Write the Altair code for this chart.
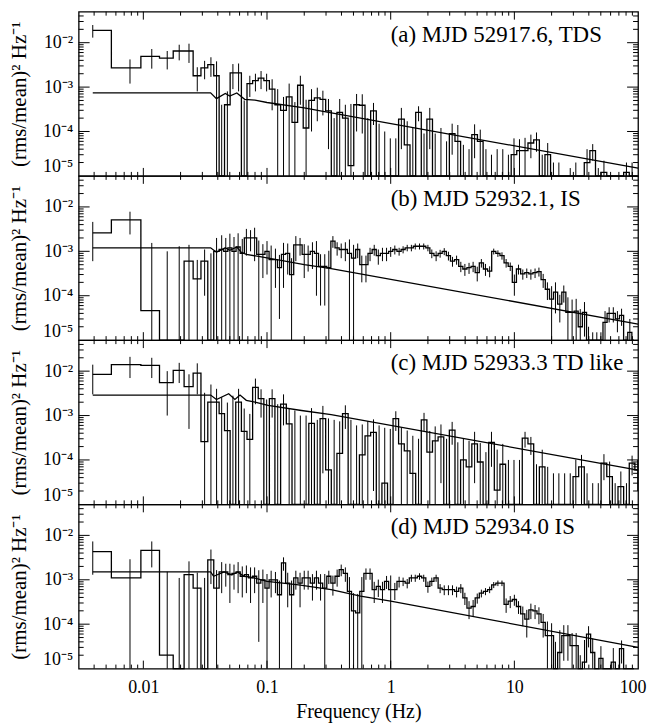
import altair as alt
import pandas as pd

SERIF = "'Liberation Serif', 'Times New Roman', Times, serif"
W, H = 562, 165
XDOM = [0.003, 100]
YDOM = [1e-5, 0.05]
UNIT = 1e-4          # powers below are in units of 1e-4 (rms/mean)^2/Hz
FLOOR = 1e-9         # non-positive powers are drawn at the bottom of the panel

# ---------------- frequency grids (bin centres, Hz) ----------------
FOURIER = [0.0039, 0.0078, 0.0117, 0.0156, 0.0195, 0.0234, 0.0273, 0.0313, 0.0352, 0.0391]
FREQ_A = FOURIER + [
    0.0430, 0.0478, 0.0530, 0.0589, 0.0654, 0.0726, 0.0806, 0.0895, 0.0993,
    0.110, 0.122, 0.136, 0.151, 0.168, 0.186, 0.207, 0.229, 0.255, 0.283, 0.314,
    0.349, 0.387, 0.430, 0.477, 0.530, 0.589, 0.653, 0.726, 0.806, 0.895, 0.993,
    1.10, 1.22, 1.36, 1.51, 1.68, 1.86, 2.07, 2.29, 2.55, 2.83, 3.14,
    3.49, 3.87, 4.30, 4.77, 5.30, 5.89, 6.53, 7.26, 8.06, 8.95, 9.93,
    11.0, 12.2, 13.6, 15.1, 16.8, 18.6, 20.7, 22.9, 25.5, 28.3, 31.4,
    34.9, 38.7, 43.0, 47.7, 53.0, 58.9, 65.3, 72.6, 80.6, 89.5, 99.3]
FREQ_B = FOURIER + [
    0.0430, 0.0464, 0.0501, 0.0541, 0.0584, 0.0631, 0.0681, 0.0736, 0.0794, 0.0858, 0.0926,
    0.100, 0.108, 0.117, 0.126, 0.136, 0.147, 0.158, 0.171, 0.185, 0.200,
    0.215, 0.233, 0.251, 0.271, 0.293, 0.316, 0.341, 0.369, 0.398, 0.430,
    0.464, 0.501, 0.541, 0.584, 0.631, 0.681, 0.736, 0.794, 0.858, 0.926,
    1.00, 1.08, 1.17, 1.26, 1.36, 1.47, 1.58, 1.71, 1.85, 2.00,
    2.15, 2.33, 2.51, 2.71, 2.93, 3.16, 3.41, 3.69, 3.98, 4.30,
    4.64, 5.01, 5.41, 5.84, 6.31, 6.81, 7.36, 7.94, 8.58, 9.26,
    10.0, 10.8, 11.7, 12.6, 13.6, 14.7, 15.8, 17.1, 18.5, 20.0,
    21.5, 23.3, 25.1, 27.1, 29.3, 31.6, 34.1, 36.9, 39.8, 43.0,
    46.4, 50.1, 54.1, 58.4, 63.1, 68.1, 73.6, 79.4, 85.8, 92.6]

# ---------------- panel (a) ----------------
POWER_A = [190, 27, 49, 45, 65, 65, 18, 27, 32, 18,
           -1, 4, 21, 21, -3, 12, 14, 16, 14,
           9, 4, 3, 6, 1.6, 11, 1.2, 5, 5.7, 5.3, 2.9, -1, 2.7, 2.0, 0.17, 4.0, 3.9, -1, 2.9, -0.5, -0.5, -0.3,
           -0.3, 1.9, 0.5, -0.3, 2.7, -0.3, 1.9, -0.3, -0.3, -0.2, 0.9, 0.6, -0.2, -0.2, 0.85, 0.6, -0.2, -0.2, -0.2, -0.1, -0.1, 0.3,
           0.37, 0.37, 0.55, 0.65, -0.1, 0.3, -0.1, -0.1, -0.1, -0.1, -0.1, -0.1, 0.2, 0.37, -0.05, 0.12, -0.05, -0.05, -0.05, 0.12, 0.1, -0.05]
SIGMA_A = [60, 15, 23, 20, 25, 30, 10, 12, 15, 20,
           5, 4, 12, 13, 8, 6, 6, 7, 6,
           6, 5, 3, 6, 3, 7, 4, 4, 4, 3, 2.5, 3, 2.7, 2, 4, 3, 3, 3, 1.5, 2, 1.5, 1,
           1, 1.5, 1.2, 1.5, 1, 1.2, 1.5, 1.2, 1.5, 0.8, 0.6, 0.8, 0.7, 0.6, 0.6, 0.5, 0.6, 0.5, 0.6, 0.5, 0.4, 0.4,
           0.3, 0.35, 0.3, 0.3, 0.4, 0.25, 0.3, 0.3, 0.2, 0.25, 0.3, 0.2, 0.2, 0.15, 0.2, 0.1, 0.15, 0.1, 0.12, 0.08, 0.1, 0.1]
MODEL_A_F = [0.0039, 0.035, 0.039, 0.046, 0.050, 0.057, 0.066, 0.080, 0.10, 0.20, 0.27, 100]
MODEL_A_P = [7.4e-4, 7.4e-4, 5.5e-4, 7.2e-4, 6.3e-4, 7.4e-4, 5.3e-4, 5.1e-4, 4.5e-4, 3.4e-4, 2.9e-4, 1.5e-5]

# ---------------- panel (b) ----------------
POWER_B = [26, 51, 0.46, -1, -1, 6, 2.4, 6, -1, 10,
           11, 10, 12, 10, 12.5, 9, 20, 20, 20, 8.5, 8.5,
           10, 6.5, 6.5, 4.3, 8.5, 9, 3, 14, 14, 8.5, 8.5, 10, 9, 4.6, 4.6,
           4.3, 17, 12, 11, 11, 9, 7, 11, 5, 5, 9, 11, 8, 9, 9,
           10, 11, 10, 11, 12, 12, 13, 13, 13, 12, 9, 8, 9, 10, 8,
           6, 6.5, 4.6, 4, 4.3, 4.6, 3.3, 5.5, 4, 3.6, 10, 9, 8, 5.5, 4.6,
           2, 4, 3.1, 3.3, 3.1, 3.3, 3.5, 2.3, 1.4, 0.84, 1.2, 0.65, 1.2, 0.42, 0.42,
           0.45, 0.2, 0.42, -0.1, -0.1, -0.1, -0.1, 0.25, 0.4, 0.4, 0.3, 0.36, -0.1, 0.15, -0.1]
SIGMA_B = [20, 27, 15, 11, 14, 8, 4, 5, 10, 10,
           12, 10, 13, 11, 13, 10, 12, 10, 14, 9, 6,
           7, 7, 5, 4, 7, 6, 4, 8, 6, 6, 5, 6, 8, 4, 4,
           6, 5, 4, 4, 5, 9.5, 7, 4, 3, 3, 3, 3, 3, 3, 3,
           2.5, 2.5, 2, 2, 2, 2, 2, 2, 2, 2, 2, 2, 1.8, 1.8, 1.8,
           1.5, 1.5, 1.2, 1.2, 1.2, 1.2, 1.2, 1.2, 1.2, 1, 1.5, 1.5, 1.5, 1.2, 1,
           1, 1, 0.8, 0.8, 0.8, 0.8, 0.8, 0.8, 0.6, 0.8, 0.8, 0.4, 0.5, 0.5, 0.4,
           0.4, 0.3, 0.3, 0.3, 0.25, 0.25, 0.25, 0.2, 0.15, 0.15, 0.15, 0.15, 0.2, 0.15, 0.15]
MODEL_B_F = [0.0039, 0.035, 0.039, 0.046, 0.050, 0.057, 0.062, 0.068, 0.090, 0.12, 0.20, 0.33, 100]
MODEL_B_P = [1.2e-3, 1.2e-3, 9.5e-4, 1.2e-3, 1.05e-3, 1.25e-3, 9.5e-4, 8.5e-4, 7.5e-4, 6.5e-4, 5.0e-4, 4.1e-4, 2.3e-5]

# ---------------- panel (c) ----------------
POWER_C = [85, 140, 135, 55, 104, 45, 90, 2.6, 20, 20,
           11, 4.6, -2, 20, 4.4, 2.9, 43, 24, -2,
           24, -2, 18, 6.5, -2, -2, -2, 6.7, -2, 8.5, 0.6, -2, 1.4, 11, -2, -2, 1.3, 3.5, 4.2, -2, 0.3, -2,
           8.5, 2.3, 1.6, 0.5, -1, 8, 1.5, 2.7, 3.3, -1, 4.7, -1, 1, 0.7, 2.3, 0.9, -1, 2.5, 0.21, 0.8, -1, -1,
           -0.5, 3.1, 2.3, -0.5, 0.7, -0.5, -0.5, -0.5, -0.5, -0.3, 0.42, 0.7, -0.3, -0.3, -0.3, 0.85, 0.42, -0.3, 0.25, -0.2, 0.85, 0.6]
SIGMA_C = [55, 70, 65, 45, 50, 40, 60, 30, 30, 20,
           15, 15, 30, 20, 10, 8, 25, 15, 25,
           15, 20, 12, 8, 15, 12, 12, 8, 10, 8, 8, 10, 6, 6, 10, 8, 5, 4, 4, 8, 5, 7,
           4, 3, 3, 3, 4, 3.5, 3, 3, 3, 4, 2.5, 3.5, 2, 2, 2, 1.5, 2.5, 1.8, 1.5, 1.5, 2, 2,
           1.5, 1.2, 1, 1.3, 1, 1.2, 1, 1, 1, 0.8, 0.6, 0.6, 0.8, 0.6, 0.6, 0.5, 0.5, 0.6, 0.3, 0.5, 0.4, 0.4]
MODEL_C_F = [0.0039, 0.035, 0.039, 0.049, 0.055, 0.0605, 0.068, 0.080, 0.102, 0.19, 0.33, 100]
MODEL_C_P = [2.9e-3, 2.9e-3, 2.3e-3, 3.1e-3, 2.3e-3, 2.9e-3, 2.2e-3, 2.0e-3, 1.7e-3, 1.3e-3, 1.05e-3, 5.9e-5]

# ---------------- panel (d) ----------------
POWER_D = [43, 11, 46, 0.2, -1, 13, 6.5, -1, 28, 6.5,
           15, 15, 13, 14, 15, 12, 13, 11, 12, 8.4, 10,
           6.5, 10, 10, 4.6, 24, 8.4, 4.6, 11, 8.4, 11, 11, 8.4, 11, 8.4, 6.5,
           12, 8.4, 12, 17, 14, 5.5, 2, 1.8, 5.5, 14, 14, 6, 7.1, 6, 9.2,
           6, 6, 9.2, 9.2, 8.4, 11, 11, 12, 11, 7.1, 9.2, 11, 6.5, 6, 6,
           6, 5.5, 6.5, 3.9, 2.3, 2.5, 3.9, 5, 5.5, 6, 7.7, 8.4, 8.4, 2.8, 3.3,
           3.6, 2.5, 1.7, 1.3, 2.1, 2, 1.7, 1.1, 0.55, 0.55, -0.1, 0.23, 0.55, 0.55, 0.33,
           0.33, -0.1, 0.14, 0.6, 0.23, -0.1, 0.17, -0.1, -0.1, 0.14, -0.1, 0.28, -0.1, -0.1, -0.1]
SIGMA_D = [30, 18, 27, 15, 12, 13, 8, 12, 20, 10,
           10, 8, 10, 8, 10, 8, 8, 8, 7, 8, 7,
           7, 6, 5, 5, 8, 6, 5, 5, 6, 5, 5, 5, 5, 5, 7,
           4, 4, 5, 5, 5, 6, 3, 3, 6, 4, 4, 3, 3, 3, 3,
           6.5, 2.5, 2.5, 2, 2, 2, 2, 2, 2, 2, 2, 2, 1.5, 1.5, 1.5,
           1.5, 1.5, 1.5, 1.2, 1, 1, 1, 1, 1, 1, 1.2, 1.2, 1.2, 1, 1,
           1, 0.8, 0.8, 0.8, 0.8, 0.7, 0.7, 0.6, 0.6, 0.5, 0.5, 0.5, 0.4, 0.4, 0.3,
           0.3, 0.3, 0.3, 0.3, 0.25, 0.2, 0.15, 0.2, 0.15, 0.15, 0.2, 0.15, 0.1, 0.1, 0.1]
MODEL_D_F = [0.0039, 0.035, 0.037, 0.045, 0.048, 0.052, 0.058, 0.065, 0.074, 0.10, 0.18, 0.33, 0.57, 1.0, 100]
MODEL_D_P = [1.5e-3, 1.5e-3, 1.2e-3, 1.5e-3, 1.4e-3, 1.3e-3, 1.5e-3, 1.2e-3, 1.15e-3, 9.2e-4, 7.7e-4, 6.0e-4, 4.3e-4, 3.3e-4, 3.0e-5]

LABELS = ["(a) MJD 52917.6, TDS", "(b) MJD 52932.1, IS",
          "(c) MJD 52933.3 TD like", "(d) MJD 52934.0 IS"]
LABEL_F, LABEL_P = 1.0, 0.0105
Y_TITLE = "(rms/mean)² Hz⁻¹"
X_TITLE = "Frequency (Hz)"
X_LABELS = [0.01, 0.1, 1, 10, 100]
Y_LABELS = [1e-5, 1e-4, 1e-3, 1e-2]

X_MAJOR = [0.01, 0.1, 1, 10]
X_MINOR = [m * 10.0 ** e for e in range(-3, 2) for m in range(2, 10) if 0.0031 < m * 10.0 ** e < 99]
Y_MAJOR = [1e-4, 1e-3, 1e-2]
Y_MINOR = [m * 10.0 ** e for e in range(-5, -1) for m in range(2, 10) if m * 10.0 ** e < 0.049]


def make_panel(freq, power, sigma, mf, mp, label, bottom):
    assert len(freq) == len(power) == len(sigma), (len(freq), len(power), len(sigma))
    xs = alt.Scale(type="log", domain=XDOM, nice=False)
    ys = alt.Scale(type="log", domain=YDOM, nice=False, clamp=True)
    if bottom:
        xax = alt.Axis(values=X_LABELS, format="~g", title=X_TITLE, labelFontSize=18,
                       titleFontSize=20, labelPadding=10, titlePadding=5,
                       labelFlush=True, labelFlushOffset=8, labelOverlap=False)
    else:
        xax = None
    yax = alt.Axis(values=Y_LABELS,
                   labelExpr="datum.value < 5e-5 ? '10⁻⁵' : datum.value < 5e-4 ? '10⁻⁴' : "
                             "datum.value < 5e-3 ? '10⁻³' : '10⁻²'",
                   title=Y_TITLE, labelFontSize=18, titleFontSize=21, labelPadding=6,
                   labelFlush=True, titleX=-53, titleY=H / 2, titleAngle=270,
                   titleBaseline="alphabetic", titleAlign="center", labelOverlap=False)

    def X(field):
        return alt.X(f"{field}:Q", scale=xs, axis=xax)

    def Y(field):
        return alt.Y(f"{field}:Q", scale=ys, axis=yax)

    step_df = pd.DataFrame({"f": freq, "v": [p * UNIT if p > 0 else FLOOR for p in power]})
    rows = []
    for f, p, s in zip(freq, power, sigma):
        hi = (p + s) * UNIT
        lo = (p - s) * UNIT
        if hi <= 0:
            continue
        rows.append({"f": f, "lo": lo if lo > 0 else FLOOR, "hi": hi})
    err_df = pd.DataFrame(rows)
    model_df = pd.DataFrame({"f": mf, "v": mp})
    label_df = pd.DataFrame({"f": [LABEL_F], "v": [LABEL_P], "t": [label]})

    step = alt.Chart(step_df).mark_line(interpolate="step", color="black", strokeWidth=1.3).encode(
        x=X("f"), y=Y("v"))
    err = alt.Chart(err_df).mark_rule(color="black", strokeWidth=1).encode(
        x=X("f"), y=Y("lo"), y2="hi")
    model = alt.Chart(model_df).mark_line(color="black", strokeWidth=1.3).encode(
        x=X("f"), y=Y("v"))
    text = alt.Chart(label_df).mark_text(align="left", baseline="alphabetic", fontSize=23,
                                         font=SERIF, color="black").encode(
        x=X("f"), y=Y("v"), text="t:N")

    layers = [step, err, model, text]
    for vals, ln in ((X_MAJOR, 8), (X_MINOR, 4)):
        tdf = pd.DataFrame({"t": vals})
        layers.append(alt.Chart(tdf).mark_rule(color="black", strokeWidth=1).encode(
            x=X("t"), y=alt.value(0), y2=alt.value(ln)))
        layers.append(alt.Chart(tdf).mark_rule(color="black", strokeWidth=1).encode(
            x=X("t"), y=alt.value(H), y2=alt.value(H - ln)))
    for vals, ln in ((Y_MAJOR, 11), (Y_MINOR, 5)):
        tdf = pd.DataFrame({"t": vals})
        layers.append(alt.Chart(tdf).mark_rule(color="black", strokeWidth=1).encode(
            y=Y("t"), x=alt.value(0), x2=alt.value(ln)))
        layers.append(alt.Chart(tdf).mark_rule(color="black", strokeWidth=1).encode(
            y=Y("t"), x=alt.value(W), x2=alt.value(W - ln)))
    return alt.layer(*layers).properties(width=W, height=H)


panels = [
    make_panel(FREQ_A, POWER_A, SIGMA_A, MODEL_A_F, MODEL_A_P, LABELS[0], False),
    make_panel(FREQ_B, POWER_B, SIGMA_B, MODEL_B_F, MODEL_B_P, LABELS[1], False),
    make_panel(FREQ_A, POWER_C, SIGMA_C, MODEL_C_F, MODEL_C_P, LABELS[2], False),
    make_panel(FREQ_B, POWER_D, SIGMA_D, MODEL_D_F, MODEL_D_P, LABELS[3], True),
]

chart = alt.vconcat(*panels, spacing=0, bounds="flush").properties(
    padding={"left": 0, "right": 0, "top": 0, "bottom": 0}, background="white"
).configure_view(stroke="black", strokeWidth=1.3).configure_axis(
    domain=False, ticks=False, tickSize=0, grid=False, labelColor="black", titleColor="black",
    labelFont=SERIF, titleFont=SERIF, titleFontWeight="normal"
).configure_concat(spacing=0)

chart.save("out.html", embed_options={"renderer": "svg", "actions": False})
